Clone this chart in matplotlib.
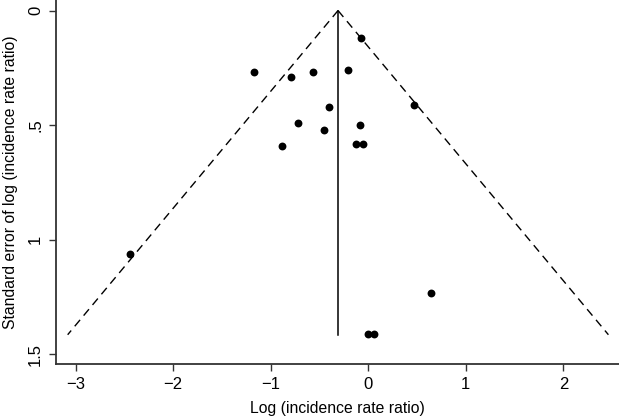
#!/usr/bin/env python3
import matplotlib
matplotlib.use('Agg')
import matplotlib.pyplot as plt
import numpy as np

# study estimates: log incidence rate ratio and its standard error
log_irr = [-0.07, -1.17, -0.79, -0.57, -0.21, -0.40, 0.47, -0.72, -0.45,
           -0.09, -0.88, -0.13, -0.05, -2.44, 0.64, 0.00, 0.06]
se_log  = [0.12, 0.27, 0.29, 0.27, 0.26, 0.42, 0.41, 0.49, 0.52,
           0.50, 0.59, 0.58, 0.58, 1.06, 1.23, 1.41, 1.41]
pooled  = -0.31
se_max  = 1.414

xticks = [-3, -2, -1, 0, 1, 2]
yticks = [0, 0.5, 1, 1.5]
ylabels = ['0', '.5', '1', '1.5']

plt.rcParams['font.family'] = ['Liberation Sans', 'DejaVu Sans']

fig = plt.figure(figsize=(6.19, 4.18), dpi=100)
ax = fig.add_axes([0.09, 0.129, 0.91, 0.871])

se_line = np.array([0, se_max])
ax.plot(pooled - 1.96 * se_line, se_line, color='black', lw=1.0, ls=(0, (6, 4)))
ax.plot(pooled + 1.96 * se_line, se_line, color='black', lw=1.0, ls=(0, (6, 4)))
ax.plot([pooled, pooled], [0, se_max], color='black', lw=1.1)
ax.scatter(log_irr, se_log, s=32, color='black', zorder=3, linewidths=0)

ax.set_xlim(-3.204, 2.57)
ax.set_ylim(1.542, -0.046)
ax.set_xticks(xticks)
ax.set_xticklabels(['\u2212%d' % -t if t < 0 else str(t) for t in xticks])
ax.set_yticks(yticks)
ax.set_yticklabels(ylabels, rotation=90, va='center')

for s in ['top', 'right']:
  ax.spines[s].set_visible(False)
for s in ['left', 'bottom']:
  ax.spines[s].set_color('#333333')
  ax.spines[s].set_linewidth(1.3)
ax.tick_params(direction='out', length=5, width=1.0, color='#333333',
               labelsize=12, pad=4)

ax.set_xlabel('Log (incidence rate ratio)', fontsize=11.3, labelpad=7)
ax.set_ylabel('Standard error of log (incidence rate ratio)', fontsize=11.3, labelpad=7)

fig.savefig('out.png', dpi=100)
